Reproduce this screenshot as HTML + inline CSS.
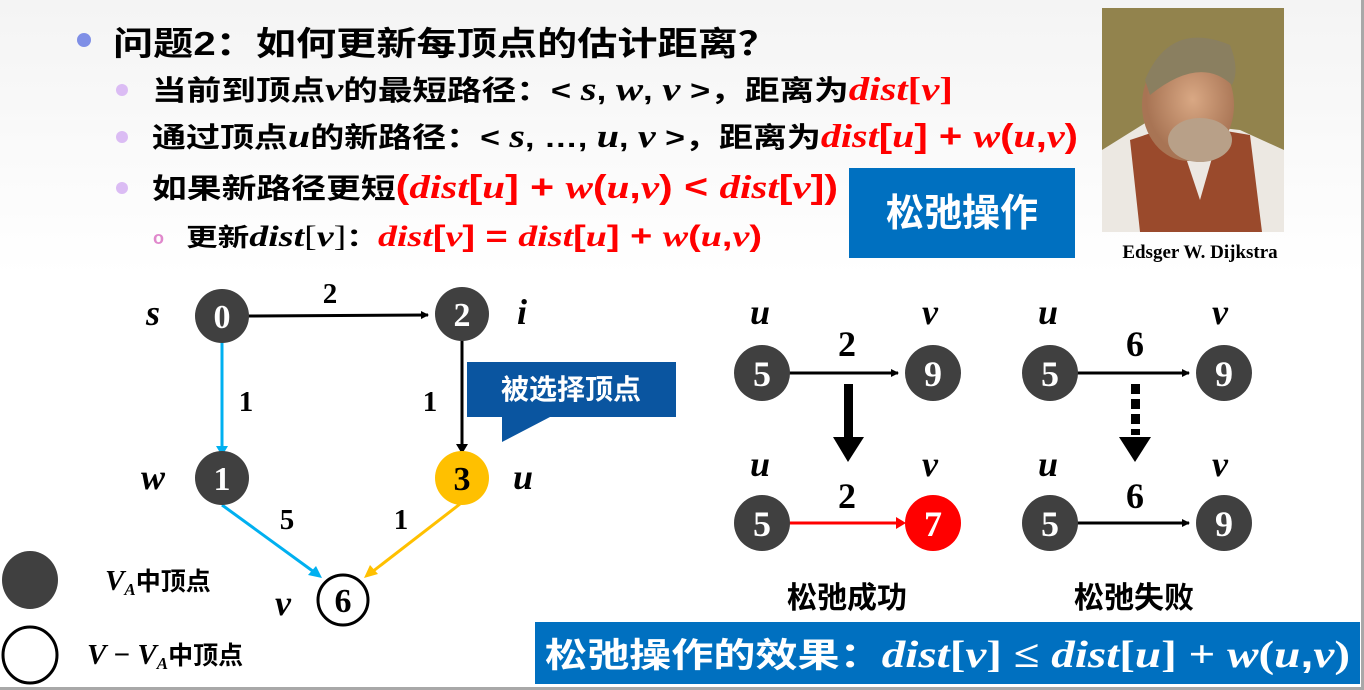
<!DOCTYPE html>
<html><head><meta charset="utf-8"><style>
html,body{margin:0;padding:0;background:#fff;}
svg{display:block;}
.cj{font-family:"Liberation Sans","Noto Sans CJK SC",sans-serif;font-weight:bold;}
.m{font-family:"Liberation Serif",serif;font-style:italic;font-weight:bold;}
.r{fill:#ff0000;}
</style></head><body>
<svg width="1364" height="690" viewBox="0 0 1364 690" xmlns="http://www.w3.org/2000/svg">
<defs>
<linearGradient id="bg" x1="0" y1="0" x2="0" y2="1"><stop offset="0" stop-color="#f4f4f4"/><stop offset="0.4" stop-color="#fff"/></linearGradient>
<radialGradient id="face" cx="0.55" cy="0.45" r="0.5"><stop offset="0" stop-color="#d9a884"/><stop offset="1" stop-color="#a87454"/></radialGradient>
<marker id="ab" markerWidth="8" markerHeight="8" refX="7" refY="4" orient="auto" markerUnits="userSpaceOnUse"><path d="M0,0 L8,4 L0,8z" fill="#000"/></marker>
</defs>
<rect width="1364" height="690" fill="url(#bg)"/>
<rect x="1361" y="0" width="3" height="690" fill="#a8a8a8"/>
<rect x="0" y="687" width="1364" height="3" fill="#a8a8a8"/>

<circle cx="84" cy="40" r="7" fill="#7f8fe6"/>
<text class="cj" x="113" y="55" font-size="33" textLength="665" lengthAdjust="spacingAndGlyphs">问题2：如何更新每顶点的估计距离？</text>
<circle cx="122" cy="90" r="6" fill="#dbbcf4"/>
<circle cx="122" cy="137" r="6" fill="#dbbcf4"/>
<circle cx="122" cy="188" r="6" fill="#dbbcf4"/>
<text x="153" y="244" font-size="18" fill="#e088cc" font-family="Liberation Sans" font-weight="bold">o</text>

<text class="cj" x="152" y="100" font-size="28" textLength="801" lengthAdjust="spacingAndGlyphs">当前到顶点<tspan class="m" font-size="33">v</tspan>的最短路径：&lt; <tspan class="m" font-size="33">s</tspan>, <tspan class="m" font-size="33">w</tspan>, <tspan class="m" font-size="33">v</tspan> &gt;，距离为<tspan class="m r" font-size="33">dist</tspan><tspan class="r" font-family="Liberation Serif" font-size="33">[</tspan><tspan class="m r" font-size="33">v</tspan><tspan class="r" font-family="Liberation Serif" font-size="33">]</tspan></text>
<text class="cj" x="152" y="147" font-size="28" textLength="926" lengthAdjust="spacingAndGlyphs">通过顶点<tspan class="m" font-size="33">u</tspan>的新路径：&lt; <tspan class="m" font-size="33">s</tspan>, …, <tspan class="m" font-size="33">u</tspan>, <tspan class="m" font-size="33">v</tspan> &gt;，距离为<tspan class="m r" font-size="33">dist</tspan><tspan class="r" font-size="33">[</tspan><tspan class="m r" font-size="33">u</tspan><tspan class="r" font-size="33">] + </tspan><tspan class="m r" font-size="33">w</tspan><tspan class="r" font-size="33">(</tspan><tspan class="m r" font-size="33">u</tspan><tspan class="r" font-size="33">,</tspan><tspan class="m r" font-size="33">v</tspan><tspan class="r" font-size="33">)</tspan></text>
<text class="cj" x="152" y="198" font-size="28" textLength="686" lengthAdjust="spacingAndGlyphs">如果新路径更短<tspan class="r" font-size="33">(</tspan><tspan class="m r" font-size="33">dist</tspan><tspan class="r" font-size="33">[</tspan><tspan class="m r" font-size="33">u</tspan><tspan class="r" font-size="33">] + </tspan><tspan class="m r" font-size="33">w</tspan><tspan class="r" font-size="33">(</tspan><tspan class="m r" font-size="33">u</tspan><tspan class="r" font-size="33">,</tspan><tspan class="m r" font-size="33">v</tspan><tspan class="r" font-size="33">) &lt; </tspan><tspan class="m r" font-size="33">dist</tspan><tspan class="r" font-size="33">[</tspan><tspan class="m r" font-size="33">v</tspan><tspan class="r" font-size="33">])</tspan></text>
<text class="cj" x="186" y="246" font-size="25" textLength="576" lengthAdjust="spacingAndGlyphs">更新<tspan class="m" font-weight="normal" font-size="30">dist</tspan><tspan font-weight="normal" font-size="30" font-family="Liberation Serif">[</tspan><tspan class="m" font-weight="normal" font-size="30">v</tspan><tspan font-weight="normal" font-size="30" font-family="Liberation Serif">]</tspan>：<tspan class="m r" font-size="30">dist</tspan><tspan class="r" font-size="30">[</tspan><tspan class="m r" font-size="30">v</tspan><tspan class="r" font-size="30">] = </tspan><tspan class="m r" font-size="30">dist</tspan><tspan class="r" font-size="30">[</tspan><tspan class="m r" font-size="30">u</tspan><tspan class="r" font-size="30">] + </tspan><tspan class="m r" font-size="30">w</tspan><tspan class="r" font-size="30">(</tspan><tspan class="m r" font-size="30">u</tspan><tspan class="r" font-size="30">,</tspan><tspan class="m r" font-size="30">v</tspan><tspan class="r" font-size="30">)</tspan></text>

<rect x="849" y="168" width="226" height="90" fill="#0070c0"/>
<text class="cj" x="962" y="226" font-size="38" fill="#fff" text-anchor="middle">松弛操作</text>

<rect x="1102" y="8" width="182" height="224" fill="#8a7a45"/>
<rect x="1102" y="8" width="182" height="224" fill="#9a8c55" opacity="0.5"/>
<path d="M1102,150 L1150,120 L1240,130 L1284,150 L1284,232 L1102,232z" fill="#ece8e2"/>
<path d="M1130,140 L1175,125 L1200,200 L1220,130 L1250,135 L1262,232 L1140,232z" fill="#9a4a2c"/>
<ellipse cx="1188" cy="105" rx="46" ry="56" fill="url(#face)"/>
<path d="M1145,80 Q1170,20 1230,45 Q1240,70 1232,85 Q1200,55 1150,95z" fill="#8a7f60"/>
<ellipse cx="1200" cy="140" rx="32" ry="22" fill="#b8a088"/>
<text x="1200" y="258" font-family="Liberation Serif" font-weight="bold" font-size="19" text-anchor="middle">Edsger W. Dijkstra</text>

<line x1="248" y1="316" x2="428" y2="315" stroke="#000" stroke-width="3" marker-end="url(#ab)"/>
<line x1="222" y1="342" x2="222" y2="448" stroke="#00b0f0" stroke-width="3"/>
<path d="M216,446 L228,446 L222,456z" fill="#00b0f0"/>
<line x1="462" y1="340" x2="462" y2="446" stroke="#000" stroke-width="3"/>
<path d="M456,444 L468,444 L462,454z" fill="#000"/>
<line x1="222" y1="505" x2="314" y2="572" stroke="#00b0f0" stroke-width="3"/>
<path d="M322,578 L308,575 L316,566z" fill="#00b0f0"/>
<line x1="460" y1="504" x2="372" y2="572" stroke="#ffc000" stroke-width="3"/>
<path d="M364,578 L370,565 L378,574z" fill="#ffc000"/>

<g font-family="Liberation Serif" font-weight="bold" font-size="34" text-anchor="middle">
<circle cx="222" cy="316" r="27" fill="#404040"/><text x="222" y="328" fill="#fff">0</text>
<circle cx="462" cy="314" r="27" fill="#404040"/><text x="462" y="326" fill="#fff">2</text>
<circle cx="222" cy="478" r="27" fill="#404040"/><text x="222" y="490" fill="#fff">1</text>
<circle cx="462" cy="478" r="27" fill="#ffc000"/><text x="462" y="490" fill="#000">3</text>
<circle cx="343" cy="600" r="25" fill="#fff" stroke="#000" stroke-width="3"/><text x="343" y="612" fill="#000">6</text>
<text x="330" y="303" font-size="29">2</text>
<text x="246" y="411" font-size="29">1</text>
<text x="430" y="411" font-size="29">1</text>
<text x="287" y="529" font-size="29">5</text>
<text x="401" y="529" font-size="29">1</text>
</g>
<g class="m" font-size="36" text-anchor="middle">
<text x="153" y="325">s</text>
<text x="522" y="324">i</text>
<text x="153" y="489">w</text>
<text x="523" y="489">u</text>
<text x="283" y="615">v</text>
</g>

<path d="M467,362 L676,362 L676,417 L550,417 L502,442 L502,417 L467,417z" fill="#0a55a0"/>
<text class="cj" x="571" y="399" font-size="28" fill="#fff" text-anchor="middle">被选择顶点</text>

<ellipse cx="30" cy="580" rx="28" ry="29" fill="#404040"/>
<ellipse cx="30" cy="655" rx="27" ry="28" fill="#fff" stroke="#000" stroke-width="3"/>
<text class="cj" x="105" y="590" font-size="25"><tspan class="m" font-size="29">V</tspan><tspan class="m" font-size="17" dy="5">A</tspan><tspan dy="-5">中顶点</tspan></text>
<text class="cj" x="87" y="664" font-size="25"><tspan class="m" font-size="29">V</tspan><tspan font-family="Liberation Serif" font-size="29"> − </tspan><tspan class="m" font-size="29">V</tspan><tspan class="m" font-size="17" dy="5">A</tspan><tspan dy="-5">中顶点</tspan></text>

<g stroke-width="3">
<line x1="789" y1="373" x2="898" y2="373" stroke="#000" marker-end="url(#ab)"/>
<line x1="789" y1="523" x2="898" y2="523" stroke="#ff0000"/>
<path d="M896,517 L906,523 L896,529z" fill="#ff0000"/>
<line x1="1077" y1="373" x2="1189" y2="373" stroke="#000" marker-end="url(#ab)"/>
<line x1="1077" y1="523" x2="1189" y2="523" stroke="#000" marker-end="url(#ab)"/>
</g>
<rect x="844" y="384" width="9" height="56" fill="#000"/>
<path d="M833,437 L864,437 L848,462z" fill="#000"/>
<g fill="#000">
<rect x="1131" y="384" width="9" height="10"/><rect x="1131" y="399" width="9" height="10"/><rect x="1131" y="414" width="9" height="10"/><rect x="1131" y="429" width="9" height="6"/>
<path d="M1119,437 L1151,437 L1135,462z"/>
</g>
<g font-family="Liberation Serif" font-weight="bold" font-size="36" text-anchor="middle">
<circle cx="762" cy="373" r="28" fill="#404040"/><text x="762" y="386" fill="#fff">5</text>
<circle cx="933" cy="373" r="28" fill="#404040"/><text x="933" y="386" fill="#fff">9</text>
<circle cx="762" cy="523" r="28" fill="#404040"/><text x="762" y="536" fill="#fff">5</text>
<circle cx="933" cy="523" r="28" fill="#ff0000"/><text x="933" y="536" fill="#fff">7</text>
<circle cx="1050" cy="373" r="28" fill="#404040"/><text x="1050" y="386" fill="#fff">5</text>
<circle cx="1224" cy="373" r="28" fill="#404040"/><text x="1224" y="386" fill="#fff">9</text>
<circle cx="1050" cy="523" r="28" fill="#404040"/><text x="1050" y="536" fill="#fff">5</text>
<circle cx="1224" cy="523" r="28" fill="#404040"/><text x="1224" y="536" fill="#fff">9</text>
<text x="847" y="356">2</text><text x="847" y="508">2</text>
<text x="1135" y="356">6</text><text x="1135" y="508">6</text>
</g>
<g class="m" font-size="36" text-anchor="middle">
<text x="760" y="324">u</text><text x="930" y="324">v</text>
<text x="760" y="476">u</text><text x="930" y="476">v</text>
<text x="1048" y="324">u</text><text x="1220" y="324">v</text>
<text x="1048" y="476">u</text><text x="1220" y="476">v</text>
</g>
<text class="cj" x="847" y="608" font-size="30" text-anchor="middle">松弛成功</text>
<text class="cj" x="1134" y="608" font-size="30" text-anchor="middle">松弛失败</text>

<rect x="535" y="622" width="825" height="62" fill="#0070c0"/>
<text class="cj" x="545" y="667" font-size="34" fill="#fff" textLength="805" lengthAdjust="spacingAndGlyphs">松弛操作的效果：<tspan class="m" font-size="38">dist</tspan><tspan font-family="Liberation Serif" font-size="38">[</tspan><tspan class="m" font-size="38">v</tspan><tspan font-family="Liberation Serif" font-size="38">] ≤ </tspan><tspan class="m" font-size="38">dist</tspan><tspan font-family="Liberation Serif" font-size="38">[</tspan><tspan class="m" font-size="38">u</tspan><tspan font-family="Liberation Serif" font-size="38">] + </tspan><tspan class="m" font-size="38">w</tspan><tspan font-family="Liberation Serif" font-size="38">(</tspan><tspan class="m" font-size="38">u</tspan><tspan font-size="38">,</tspan><tspan class="m" font-size="38">v</tspan><tspan font-family="Liberation Serif" font-size="38">)</tspan></text>
</svg>
</body></html>
